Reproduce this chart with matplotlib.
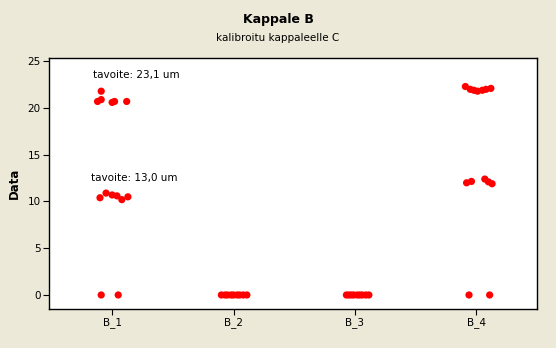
import numpy as np
import matplotlib
matplotlib.use("Agg")
import matplotlib.pyplot as plt

categories = ["B_1", "B_2", "B_3", "B_4"]

# measured values per category, with the horizontal jitter Minitab added
b1_values = [20.7, 20.9, 21.8, 20.6, 20.7, 20.7,
             10.4, 10.9, 10.7, 10.6, 10.2, 10.5,
             0.0, 0.0]
b1_jitter = [-0.12, -0.09, -0.09, 0.0, 0.02, 0.12,
             -0.10, -0.05, 0.0, 0.04, 0.08, 0.13,
             -0.09, 0.05]
b2_values = [0.0] * 9
b2_jitter = [-0.10, -0.07, -0.05, -0.02, 0.0, 0.03, 0.05, 0.08, 0.11]
b3_values = [0.0] * 9
b3_jitter = [-0.07, -0.05, -0.03, -0.01, 0.02, 0.04, 0.06, 0.09, 0.115]
b4_values = [22.3, 22.0, 21.9, 21.8, 21.9, 22.0, 22.1,
             12.0, 12.15, 12.4, 12.1, 11.9,
             0.0, 0.0]
b4_jitter = [-0.09, -0.05, -0.02, 0.01, 0.05, 0.08, 0.12,
             -0.08, -0.04, 0.07, 0.10, 0.13,
             -0.06, 0.11]

groups = [(b1_values, b1_jitter), (b2_values, b2_jitter),
          (b3_values, b3_jitter), (b4_values, b4_jitter)]

bg = "#ECE9D8"
plt.rcParams['font.family'] = ['DejaVu Sans']

fig = plt.figure(figsize=(5.56, 3.48), dpi=100, facecolor=bg)
ax = fig.add_axes([49 / 556, 1 - 309 / 348, 488 / 556, 251 / 348])
ax.set_facecolor("white")

for i, (vals, jit) in enumerate(groups):
    xs = np.array(jit) + i + 1
    ax.scatter(xs, vals, s=27, color="#FF0000", edgecolors="none", zorder=3)

ax.set_xlim(0.48, 4.5)
ax.set_ylim(-1.5, 25.35)
ax.set_xticks(range(1, 5))
ax.set_xticklabels(categories)
ax.set_yticks([0, 5, 10, 15, 20, 25])
ax.tick_params(axis="both", direction="out", length=4, width=0.8,
               labelsize=7.5, top=False, right=False, pad=2)
for s in ax.spines.values():
    s.set_linewidth(1.0)
    s.set_color("black")

ax.set_ylabel("Data", fontsize=8.5, fontweight="bold", labelpad=5)

ax.text(0.84, 23.5, "tavoite: 23,1 um", fontsize=7.5, va="center", ha="left")
ax.text(0.83, 12.5, "tavoite: 13,0 um", fontsize=7.5, va="center", ha="left")

fig.text(0.5, 1 - 19 / 348, "Kappale B", ha="center", va="center",
         fontsize=9, fontweight="bold")
fig.text(0.5, 1 - 38 / 348, "kalibroitu kappaleelle C", ha="center",
         va="center", fontsize=7.5)

fig.savefig("out.png", dpi=100, facecolor=bg)
